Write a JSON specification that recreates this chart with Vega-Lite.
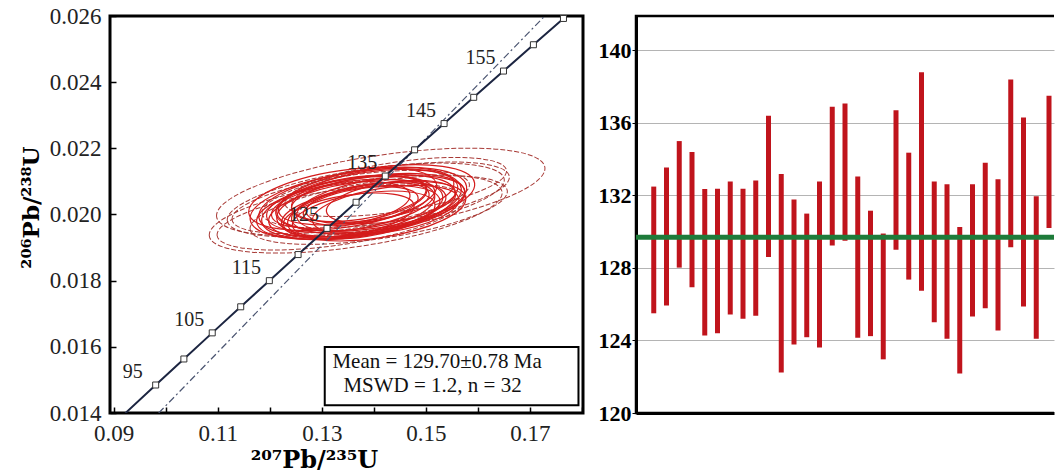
{
  "$schema": "https://vega.github.io/schema/vega-lite/v6.json",
  "background": "white",
  "padding": {"left": 18, "top": 3, "right": 0, "bottom": 0},
  "bounds": "flush",
  "spacing": 53,
  "config": {
    "font": "Liberation Serif",
    "axis": {"labelFont": "Liberation Serif", "titleFont": "DejaVu Serif"}
  },
  "datasets": {
    "ellipses": [
      {"x": 0.14133, "y": 0.02068, "a": 0.0319},
      {"x": 0.13652, "y": 0.020015, "a": 0.02845},
      {"x": 0.14229, "y": 0.020589, "a": 0.02402},
      {"x": 0.14094, "y": 0.020136, "a": 0.02499},
      {"x": 0.13556, "y": 0.020378, "a": 0.02306},
      {"x": 0.14421, "y": 0.020831, "a": 0.02153},
      {"x": 0.13364, "y": 0.019924, "a": 0.02402},
      {"x": 0.13845, "y": 0.020438, "a": 0.02691},
      {"x": 0.13787, "y": 0.020378, "a": 0.02018},
      {"x": 0.1371, "y": 0.020227, "a": 0.01884},
      {"x": 0.13864, "y": 0.020438, "a": 0.01768},
      {"x": 0.13652, "y": 0.020166, "a": 0.01691},
      {"x": 0.13941, "y": 0.020287, "a": 0.01826},
      {"x": 0.13556, "y": 0.020317, "a": 0.01634},
      {"x": 0.14037, "y": 0.020499, "a": 0.01922},
      {"x": 0.13748, "y": 0.020076, "a": 0.01538},
      {"x": 0.1346, "y": 0.020166, "a": 0.0173},
      {"x": 0.13902, "y": 0.020197, "a": 0.01499},
      {"x": 0.13595, "y": 0.020438, "a": 0.01441},
      {"x": 0.14133, "y": 0.020317, "a": 0.01634},
      {"x": 0.13806, "y": 0.019985, "a": 0.01384},
      {"x": 0.13979, "y": 0.020589, "a": 0.01576},
      {"x": 0.13364, "y": 0.020287, "a": 0.01345},
      {"x": 0.1371, "y": 0.020469, "a": 0.01307},
      {"x": 0.14229, "y": 0.020136, "a": 0.01422},
      {"x": 0.13518, "y": 0.019985, "a": 0.01269},
      {"x": 0.13883, "y": 0.020348, "a": 0.01192},
      {"x": 0.13652, "y": 0.020317, "a": 0.0205},
      {"x": 0.14056, "y": 0.020106, "a": 0.0173},
      {"x": 0.13402, "y": 0.020469, "a": 0.01826},
      {"x": 0.14325, "y": 0.020378, "a": 0.01249},
      {"x": 0.13748, "y": 0.020257, "a": 0.01115}
    ],
    "concordia": [
      {"t": 89.6, "x": 0.09225, "y": 0.013996},
      {"t": 95, "x": 0.098077, "y": 0.014846},
      {"t": 100, "x": 0.103498, "y": 0.015633},
      {"t": 105, "x": 0.108945, "y": 0.016422},
      {"t": 110, "x": 0.114419, "y": 0.01721},
      {"t": 115, "x": 0.119921, "y": 0.018},
      {"t": 120, "x": 0.125449, "y": 0.018789},
      {"t": 125, "x": 0.131005, "y": 0.01958},
      {"t": 130, "x": 0.136588, "y": 0.020371},
      {"t": 135, "x": 0.142198, "y": 0.021163},
      {"t": 140, "x": 0.147837, "y": 0.021955},
      {"t": 145, "x": 0.153503, "y": 0.022748},
      {"t": 150, "x": 0.159197, "y": 0.023542},
      {"t": 155, "x": 0.164919, "y": 0.024336},
      {"t": 160, "x": 0.17067, "y": 0.025131},
      {"t": 165, "x": 0.176449, "y": 0.025926},
      {"t": 165.5, "x": 0.177028, "y": 0.026006}
    ],
    "envelope": [
      {"x": 0.09866, "y": 0.014},
      {"x": 0.17285, "y": 0.026}
    ],
    "box": [
      {"x": 0.13057, "x2": 0.17933, "y": 0.014233, "y2": 0.015995}
    ],
    "stats": [
      {"x": 0.13204, "y": 0.015551, "label": "Mean = 129.70±0.78 Ma"},
      {"x": 0.13416, "y": 0.014825, "label": "MSWD = 1.2, n = 32"}
    ],
    "spots": [
      {"i": 1, "lo": 125.5, "hi": 132.49},
      {"i": 2, "lo": 125.93, "hi": 133.54},
      {"i": 3, "lo": 128.02, "hi": 135.0},
      {"i": 4, "lo": 126.93, "hi": 134.4},
      {"i": 5, "lo": 124.27, "hi": 132.35},
      {"i": 6, "lo": 124.4, "hi": 132.37},
      {"i": 7, "lo": 125.44, "hi": 132.77},
      {"i": 8, "lo": 125.2, "hi": 132.37},
      {"i": 9, "lo": 125.36, "hi": 132.82},
      {"i": 10, "lo": 128.6, "hi": 136.4},
      {"i": 11, "lo": 122.24, "hi": 133.19},
      {"i": 12, "lo": 123.78, "hi": 131.78},
      {"i": 13, "lo": 124.18, "hi": 131.0},
      {"i": 14, "lo": 123.62, "hi": 132.77},
      {"i": 15, "lo": 129.24, "hi": 136.89},
      {"i": 16, "lo": 129.5, "hi": 137.07},
      {"i": 17, "lo": 124.15, "hi": 133.04},
      {"i": 18, "lo": 124.24, "hi": 131.16},
      {"i": 19, "lo": 122.96, "hi": 129.9},
      {"i": 20, "lo": 129.0, "hi": 136.7},
      {"i": 21, "lo": 127.36, "hi": 134.36},
      {"i": 22, "lo": 126.75, "hi": 138.8},
      {"i": 23, "lo": 125.0, "hi": 132.77},
      {"i": 24, "lo": 124.1, "hi": 132.62},
      {"i": 25, "lo": 122.18, "hi": 130.26},
      {"i": 26, "lo": 125.33, "hi": 132.62},
      {"i": 27, "lo": 125.78, "hi": 133.8},
      {"i": 28, "lo": 124.55, "hi": 132.9},
      {"i": 29, "lo": 129.15, "hi": 138.4},
      {"i": 30, "lo": 125.87, "hi": 136.3},
      {"i": 31, "lo": 124.1, "hi": 131.95},
      {"i": 32, "lo": 130.2, "hi": 137.5}
    ],
    "mean": [{"age": 129.7}]
  },
  "hconcat": [
    {
      "width": 473,
      "height": 397,
      "view": {"stroke": "black", "strokeWidth": 3},
      "layer": [
        {
          "data": {"name": "ellipses"},
          "transform": [{"filter": "datum.a >= 0.021"}],
          "mark": {"type": "point", "shape": "M-1,0C-1,-0.1215,-0.5523,-0.22,0,-0.22C0.5523,-0.22,1,-0.1215,1,0C1,0.1215,0.5523,0.22,0,0.22C-0.5523,0.22,-1,0.1215,-1,0Z", "filled": false, "color": "#a83a36", "strokeWidth": 1, "strokeDash": [5, 2], "angle": 351.4, "opacity": 1, "clip": true},
          "encoding": {
            "x": {"field": "x", "type": "quantitative", "scale": {"domain": [0.0893, 0.1802], "nice": false, "zero": false},
              "axis": {"title": "²⁰⁷Pb/²³⁵U", "values": [0.09, 0.1, 0.11, 0.12, 0.13, 0.14, 0.15, 0.16, 0.17, 0.18],
                "labelExpr": "round(datum.value*100) % 2 == 1 ? format(datum.value, '.2f') : ''",
                "tickSize": -6, "tickColor": "black", "tickWidth": 1.5, "labelPadding": 15, "labelFontSize": 23, "labelColor": "#222",
                "domain": false, "grid": false, "titleFontSize": 24, "titleFontWeight": "bold", "titleColor": "black", "titleX": 204, "titleAlign": "center", "titlePadding": 3}},
            "y": {"field": "y", "type": "quantitative", "scale": {"domain": [0.014, 0.026], "nice": false, "zero": false},
              "axis": {"title": "²⁰⁶Pb/²³⁸U", "values": [0.014, 0.015, 0.016, 0.017, 0.018, 0.019, 0.02, 0.021, 0.022, 0.023, 0.024, 0.025, 0.026],
                "labelExpr": "round(datum.value*1000) % 2 == 0 ? format(datum.value, '.3f') : ''",
                "tickSize": -6, "tickColor": "black", "tickWidth": 1.5, "labelPadding": 15, "labelFontSize": 23, "labelColor": "#222",
                "domain": false, "grid": false, "titleFontSize": 23, "titleFontWeight": "bold", "titleColor": "black", "titleY": 191, "titleAlign": "center", "titlePadding": 6}},
            "size": {"field": "a", "type": "quantitative", "scale": {"type": "pow", "exponent": 2, "domain": [0, 0.04], "range": [0, 173256]}, "legend": null}
          }
        },
        {
          "data": {"name": "ellipses"},
          "transform": [{"filter": "datum.a < 0.021"}],
          "mark": {"type": "point", "shape": "M-1,0C-1,-0.1657,-0.5523,-0.3,0,-0.3C0.5523,-0.3,1,-0.1657,1,0C1,0.1657,0.5523,0.3,0,0.3C-0.5523,0.3,-1,0.1657,-1,0Z", "filled": false, "color": "#d41c1c", "strokeWidth": 1.2, "angle": 351.4, "opacity": 1, "clip": true},
          "encoding": {
            "x": {"field": "x", "type": "quantitative"},
            "y": {"field": "y", "type": "quantitative"},
            "size": {"field": "a", "type": "quantitative", "legend": null}
          }
        },
        {
          "data": {"name": "envelope"},
          "mark": {"type": "line", "color": "#4a5470", "strokeWidth": 1.2, "strokeDash": [7, 3, 2, 3], "clip": true},
          "encoding": {
            "x": {"field": "x", "type": "quantitative"},
            "y": {"field": "y", "type": "quantitative"}
          }
        },
        {
          "data": {"name": "concordia"},
          "mark": {"type": "line", "color": "#1c2541", "strokeWidth": 2, "clip": true},
          "encoding": {
            "x": {"field": "x", "type": "quantitative"},
            "y": {"field": "y", "type": "quantitative"},
            "order": {"field": "t", "type": "quantitative"}
          }
        },
        {
          "data": {"name": "concordia"},
          "transform": [{"filter": "datum.t % 5 == 0"}],
          "mark": {"type": "point", "shape": "square", "filled": true, "fill": "white", "stroke": "#333", "strokeWidth": 1, "size": 36, "opacity": 1},
          "encoding": {
            "x": {"field": "x", "type": "quantitative"},
            "y": {"field": "y", "type": "quantitative"}
          }
        },
        {
          "data": {"name": "concordia"},
          "transform": [{"filter": "datum.t % 10 == 5 && datum.t < 160"}],
          "mark": {"type": "text", "font": "Liberation Serif", "fontSize": 20, "color": "#222", "dx": -23, "dy": -13},
          "encoding": {
            "x": {"field": "x", "type": "quantitative"},
            "y": {"field": "y", "type": "quantitative"},
            "text": {"field": "t", "type": "quantitative"}
          }
        },
        {
          "data": {"name": "box"},
          "mark": {"type": "rect", "fill": "white", "stroke": "black", "strokeWidth": 2},
          "encoding": {
            "x": {"field": "x", "type": "quantitative"},
            "x2": {"field": "x2"},
            "y": {"field": "y", "type": "quantitative"},
            "y2": {"field": "y2"}
          }
        },
        {
          "data": {"name": "stats"},
          "mark": {"type": "text", "font": "Liberation Serif", "fontSize": 21, "color": "#111", "align": "left", "baseline": "middle"},
          "encoding": {
            "x": {"field": "x", "type": "quantitative"},
            "y": {"field": "y", "type": "quantitative"},
            "text": {"field": "label"}
          }
        }
      ]
    },
    {
      "width": 418,
      "height": 397,
      "view": {"stroke": "black", "strokeWidth": 2.5, "strokeDash": [418, 397, 815]},
      "layer": [
        {
          "data": {"name": "spots"},
          "mark": {"type": "bar", "width": 5, "color": "#c0141c", "clip": true},
          "encoding": {
            "x": {"field": "i", "type": "quantitative", "scale": {"domain": [0, 32], "nice": false, "zero": false},
              "axis": {"labels": false, "ticks": false, "grid": false, "title": null, "domain": true, "domainColor": "black", "domainWidth": 3}},
            "y": {"field": "lo", "type": "quantitative", "scale": {"domain": [120, 141.9], "nice": false, "zero": false},
              "axis": {"title": null, "values": [120, 122, 124, 126, 128, 130, 132, 134, 136, 138, 140],
                "labelExpr": "datum.value % 4 == 0 ? datum.label : ''",
                "labelFontSize": 22, "labelFontWeight": "bold", "labelColor": "black", "labelPadding": 1,
                "tickSize": 4, "tickColor": "black", "domain": true, "domainColor": "black", "domainWidth": 3,
                "grid": true, "gridColor": {"condition": {"test": "datum.value % 4 == 0 && datum.value > 120", "value": "#b4b4b4"}, "value": "transparent"}, "gridWidth": 1}},
            "y2": {"field": "hi"}
          }
        },
        {
          "data": {"name": "mean"},
          "mark": {"type": "rule", "color": "#1e7b3a", "strokeWidth": 5},
          "encoding": {
            "y": {"field": "age", "type": "quantitative"}
          }
        }
      ]
    }
  ]
}
